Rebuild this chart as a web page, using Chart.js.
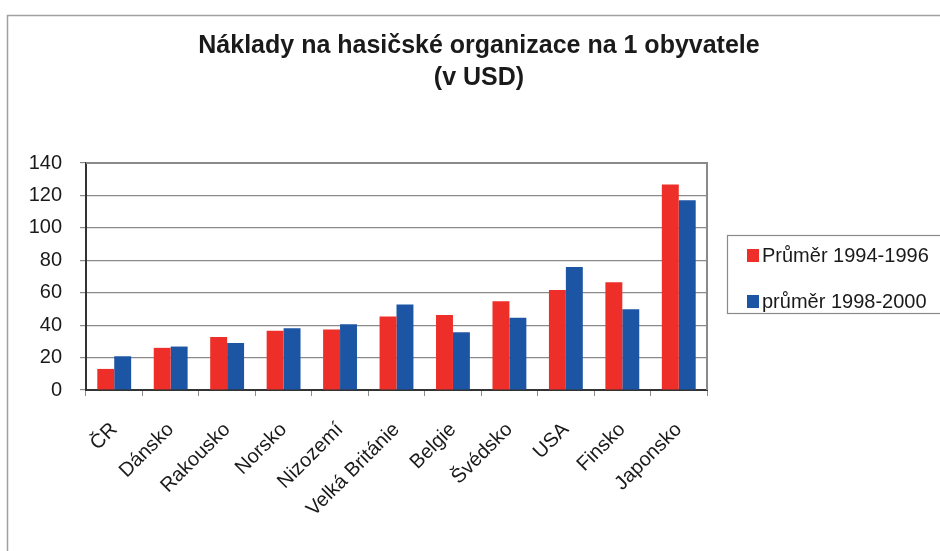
<!DOCTYPE html>
<html>
<head>
<meta charset="utf-8">
<script src="https://cdn.jsdelivr.net/npm/chart.js@4"></script>
<style>
html,body{margin:0;padding:0;background:#fff;}
#wrap{width:940px;height:551px;position:relative;}
</style>
</head>
<body>
<div id="wrap"><canvas id="c" width="940" height="551"></canvas></div>
<script>
const categories = ["ČR","Dánsko","Rakousko","Norsko","Nizozemí","Velká Británie","Belgie","Švédsko","USA","Finsko","Japonsko"];
const series1Name = "Průměr 1994-1996";
const series2Name = "průměr 1998-2000";
const series1 = [13, 26, 32.7, 36.5, 37.3, 45.3, 46.3, 54.8, 61.6, 66.5, 126.8];
const series2 = [20.8, 26.8, 29, 38.1, 40.6, 52.7, 35.6, 44.5, 75.8, 49.8, 117.1];
const titleLines = ["Náklady na hasičské organizace na 1 obyvatele", "(v USD)"];
const yMax = 140, yStep = 20;

const RED = "#ee2e29", BLUE = "#1b55a3";

const decor = {
  id: "decor",
  afterDatasetsDraw(chart) {
    const ctx = chart.ctx, a = chart.chartArea;
    ctx.save();
    ctx.strokeStyle = "#8a8a8a";
    ctx.lineWidth = 2;
    ctx.beginPath();
    ctx.moveTo(a.left, a.top); ctx.lineTo(a.right, a.top); ctx.lineTo(a.right, a.bottom);
    ctx.stroke();
    ctx.restore();
  },
  afterDraw(chart) {
    const ctx = chart.ctx;
    ctx.save();
    ctx.strokeStyle = "#a0a0a0";
    ctx.lineWidth = 1.5;
    ctx.beginPath();
    ctx.moveTo(7.5, 560); ctx.lineTo(7.5, 15.5); ctx.lineTo(945, 15.5);
    ctx.stroke();
    ctx.fillStyle = "#1a1a1a";
    ctx.font = "bold 25px 'Liberation Sans', Arial, sans-serif";
    ctx.textAlign = "center";
    ctx.textBaseline = "alphabetic";
    ctx.fillText(titleLines[0], 479, 53);
    ctx.fillText(titleLines[1], 479, 85);
    ctx.strokeStyle = "#8a8a8a";
    ctx.lineWidth = 1.2;
    ctx.strokeRect(727.5, 235.5, 230, 78);
    ctx.fillStyle = RED; ctx.fillRect(747, 249, 12, 13);
    ctx.fillStyle = BLUE; ctx.fillRect(747, 295, 12, 13);
    ctx.fillStyle = "#1a1a1a";
    ctx.font = "20px 'Liberation Sans', Arial, sans-serif";
    ctx.textAlign = "left";
    ctx.textBaseline = "middle";
    ctx.fillText(series1Name, 762, 256);
    ctx.fillText(series2Name, 762, 302);
    ctx.restore();
  }
};

new Chart(document.getElementById("c"), {
  type: "bar",
  data: {
    labels: categories,
    datasets: [
      {label: series1Name, data: series1, backgroundColor: RED, categoryPercentage: 0.6, barPercentage: 1.0},
      {label: series2Name, data: series2, backgroundColor: BLUE, categoryPercentage: 0.6, barPercentage: 1.0}
    ]
  },
  options: {
    responsive: false,
    animation: false,
    devicePixelRatio: 1,
    layout: {padding: {left: 0, top: 163, right: 233, bottom: 0}},
    plugins: {legend: {display: false}, title: {display: false}, tooltip: {enabled: false}},
    scales: {
      x: {
        offset: true,
        afterFit(s) { s.height = 161; },
        grid: {offset: true, drawOnChartArea: false, drawTicks: true, tickLength: 6, color: "#8a8a8a", lineWidth: 1},
        border: {display: true, color: "#333", width: 2},
        ticks: {minRotation: 45, maxRotation: 45, autoSkip: false, padding: 22, color: "#1a1a1a",
                font: {family: "'Liberation Sans', Arial, sans-serif", size: 20}}
      },
      y: {
        min: 0, max: yMax,
        afterFit(s) { s.width = 86; },
        grid: {color: "#8a8a8a", lineWidth: 1.2, tickLength: 6, drawTicks: true},
        border: {display: true, color: "#333", width: 2},
        ticks: {stepSize: yStep, padding: 18, color: "#1a1a1a",
                font: {family: "'Liberation Sans', Arial, sans-serif", size: 20}}
      }
    }
  },
  plugins: [decor]
});
</script>
</body>
</html>
